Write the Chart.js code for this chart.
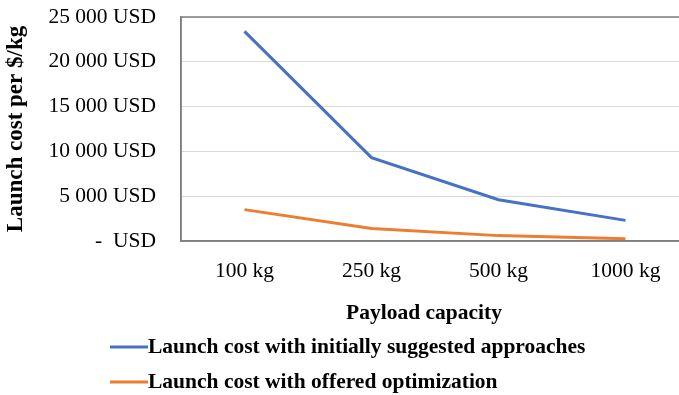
<!DOCTYPE html>
<html>
<head>
<meta charset="utf-8" />
<title>Launch cost per payload capacity</title>
<script src="https://cdn.jsdelivr.net/npm/chart.js@4.4.0/dist/chart.umd.min.js"></script>
<style>
	body { margin: 0; padding: 0; background: #fff; overflow: hidden; }
	#wrap { position: relative; width: 690px; height: 395px; }
</style>
</head>
<body>

<div id="wrap"><canvas id="chart"></canvas></div>

<script>

var categories = ['100 kg', '250 kg', '500 kg', '1000 kg'];
var initialCost = [23400, 9300, 4600, 2300];
var optimizedCost = [3500, 1400, 600, 250];
var seriesNames = ['Launch cost with initially suggested approaches', 'Launch cost with offered optimization'];
var seriesColors = ['#4472C4', '#ED7D31'];
var yTicks = [0, 5000, 10000, 15000, 20000, 25000];

var serif = "'Liberation Serif', 'Times New Roman', serif";

function usd(v) {
	if (v === 0) return '-  USD';
	return String(v).replace(/\B(?=(\d{3})+(?!\d))/g, ' ') + ' USD';
}

// plot frame, x title and the legend below
var extras = {
	id: 'extras',
	afterDraw: function (chart) {
		var ctx = chart.ctx;
		var a = chart.chartArea;
		ctx.save();
		ctx.strokeStyle = '#7f7f7f';
		ctx.lineWidth = 1.5;
		ctx.strokeRect(a.left, a.top, a.right - a.left, a.bottom - a.top);

		ctx.fillStyle = '#000';
		ctx.font = 'bold 21.5px ' + serif;
		ctx.textAlign = 'center';
		ctx.textBaseline = 'middle';
		ctx.fillText('Payload capacity', 424, 313);

		ctx.textAlign = 'left';
		var rows = [347, 382];
		seriesNames.forEach(function (name, i) {
			ctx.strokeStyle = seriesColors[i];
			ctx.lineWidth = 3;
			ctx.beginPath();
			ctx.moveTo(110, rows[i]);
			ctx.lineTo(148, rows[i]);
			ctx.stroke();
			ctx.fillText(name, 148, rows[i]);
		});
		ctx.restore();
	}
};

var chart = new Chart(document.getElementById('chart'), {
	type: 'line',
	data: {
		labels: categories,
		datasets: [{
			label: seriesNames[0],
			data: initialCost,
			borderColor: seriesColors[0],
			backgroundColor: seriesColors[0],
			borderWidth: 3,
			pointRadius: 0,
			tension: 0
		}, {
			label: seriesNames[1],
			data: optimizedCost,
			borderColor: seriesColors[1],
			backgroundColor: seriesColors[1],
			borderWidth: 3,
			pointRadius: 0,
			tension: 0
		}]
	},
	options: {
		responsive: true,
		maintainAspectRatio: false,
		animation: false,
		layout: { padding: { top: 17, right: 1, left: 0, bottom: 0 } },
		plugins: {
			legend: { display: false },
			tooltip: { enabled: false }
		},
		scales: {
			x: {
				offset: true,
				grid: { display: false, drawTicks: false },
				border: { display: true, color: '#7f7f7f', width: 1.5 },
				ticks: { color: '#000', font: { family: serif, size: 21.5 }, padding: 17 },
				afterFit: function (s) {
					s.height = 395 - 241;
					s.paddingLeft = 0;
					s.paddingRight = 0;
				}
			},
			y: {
				min: 0,
				max: 25000,
				afterBuildTicks: function (s) { s.ticks = yTicks.map(function (v) { return { value: v }; }); },
				grid: { color: '#d9d9d9', drawTicks: false },
				border: { display: true, color: '#7f7f7f', width: 1.5 },
				ticks: { color: '#000', font: { family: serif, size: 21.5 }, padding: 25, callback: function (v) { return usd(v); } },
				title: { display: true, text: 'Launch cost per $/kg', color: '#000', font: { family: serif, size: 23, weight: 'bold' }, padding: { top: 2, bottom: 0 } },
				afterFit: function (s) {
					s.width = 181;
					s.paddingTop = 0;
					s.paddingBottom = 0;
				}
			}
		}
	},
	plugins: [extras]
});

</script>

</body>
</html>
